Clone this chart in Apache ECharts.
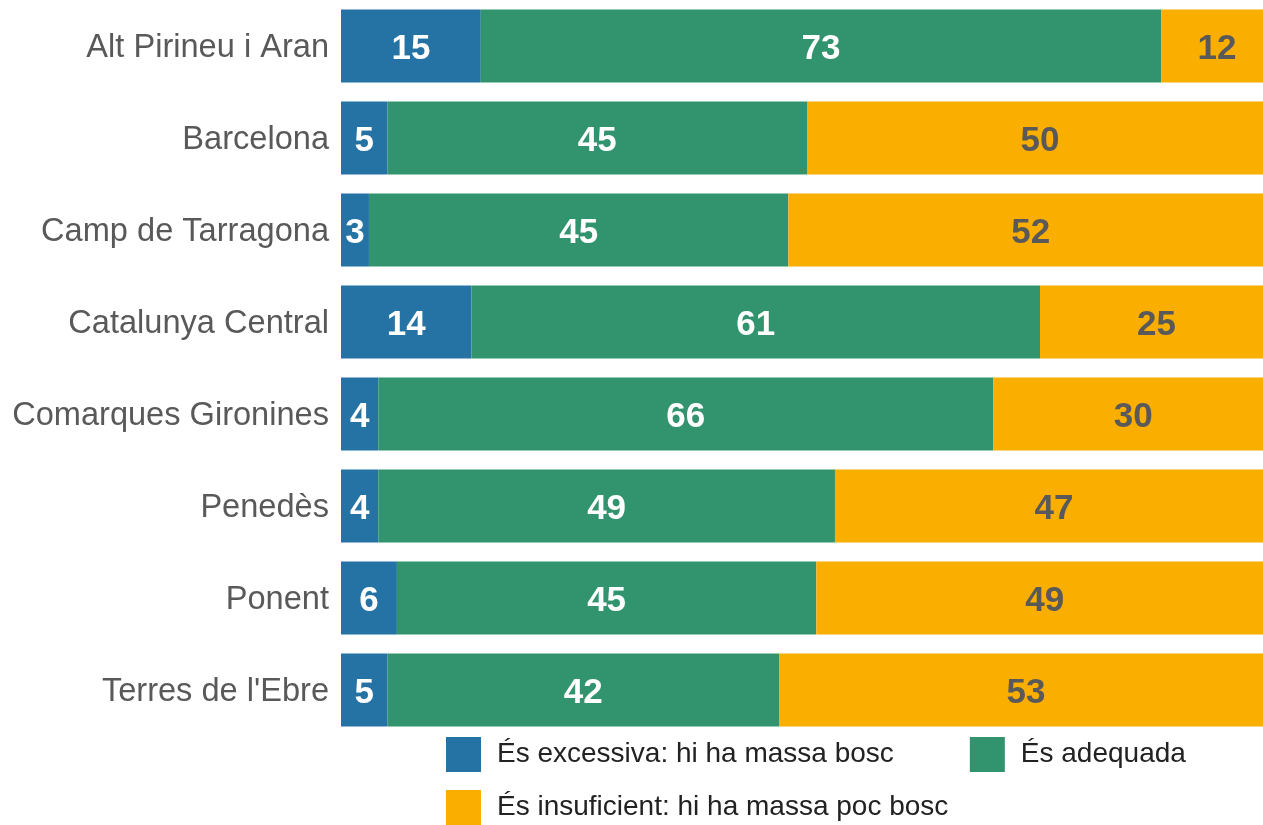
<!DOCTYPE html>
<html><head><meta charset="utf-8">
<script src="https://cdn.jsdelivr.net/npm/echarts@6/dist/echarts.min.js"></script>
<style>html,body{margin:0;padding:0;background:#fff}#c{width:1263px;height:825px}</style>
</head><body><div id="c"></div>
<script>
const categories = ["Alt Pirineu i Aran","Barcelona","Camp de Tarragona","Catalunya Central","Comarques Gironines","Penedès","Ponent","Terres de l'Ebre"];
const excessiva = [15,5,3,14,4,4,6,5];
const adequada = [73,45,45,61,66,49,45,42];
const insuficient = [12,50,52,25,30,47,49,53];
const seriesNames = ["És excessiva: hi ha massa bosc","És adequada","És insuficient: hi ha massa poc bosc"];
const colors = ["#2473a4","#32946e","#f9ae00"];
const labelColors = ["#ffffff","#ffffff","#595959"];
const FONT = "Liberation Sans, Arial, sans-serif";
const chart = echarts.init(document.getElementById('c'));
const dataSets = [excessiva, adequada, insuficient];
chart.setOption({
  animation:false,
  grid:{left:341,width:932,top:0,height:736,containLabel:false,outerBoundsMode:'none'},
  xAxis:{type:'value',min:0,max:100,show:false},
  yAxis:{type:'category',data:categories,inverse:true,
    axisLine:{show:false},axisTick:{show:false},splitLine:{show:false},
    axisLabel:{color:'#595959',margin:12,
      formatter:v=>'{a|'+v+'}',
      rich:{a:{fontSize:32.6,color:'#595959',fontFamily:FONT,padding:[5,0,0,0]}}}},
  legend:[
    {data:[seriesNames[0],seriesNames[1]],left:441,top:732,orient:'horizontal',
     itemWidth:35,itemHeight:35,itemGap:76,icon:'rect',
     textStyle:{fontSize:28,color:'#222',fontFamily:FONT,padding:[0,0,0,11]}},
    {data:[seriesNames[2]],left:441,top:785,
     itemWidth:35,itemHeight:35,icon:'rect',
     textStyle:{fontSize:28,color:'#222',fontFamily:FONT,padding:[0,0,0,11]}}
  ],
  series: dataSets.map((d,i)=>({
    name:seriesNames[i],type:'bar',stack:'t',data:d,barCategoryGap:'20.6%',
    itemStyle:{color:colors[i]},
    label:{show:true,position:'inside',offset:[0,3],fontSize:35,fontWeight:'bold',color:labelColors[i],fontFamily:FONT}
  }))
});
</script></body></html>
